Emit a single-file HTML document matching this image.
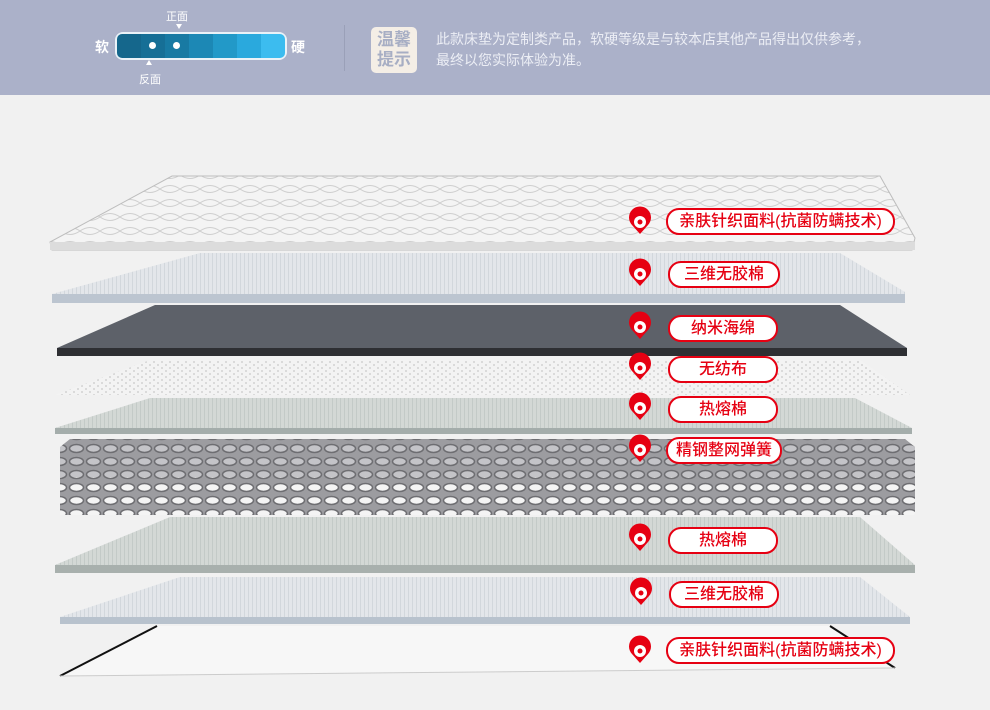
<!DOCTYPE html>
<html><head><meta charset="utf-8"><style>
body{margin:0;width:990px;height:710px;overflow:hidden;background:#f1f1f1;font-family:"Liberation Sans","Noto Sans CJK SC",sans-serif;position:relative}
.hdr{position:absolute;left:0;top:0;width:990px;height:95px;background:#abb1c9}
.lab{position:absolute;height:23px;border:2px solid #e60012;border-radius:13px;background:#fff;color:#e60012;font-size:16px;line-height:23px;text-align:center;box-sizing:content-box;font-weight:500}
</style></head><body>
<div class="hdr">
<div style="position:absolute;left:95px;top:37px;color:#fff;font-size:14px;font-weight:bold">软</div>
<div style="position:absolute;left:291px;top:37px;color:#fff;font-size:14px;font-weight:bold">硬</div>
<div style="position:absolute;left:166px;top:8px;color:#fff;font-size:11px">正面</div>
<div style="position:absolute;left:176px;top:24px;width:0;height:0;border-left:3px solid transparent;border-right:3px solid transparent;border-top:5px solid #fff"></div>
<div style="position:absolute;left:146px;top:60px;width:0;height:0;border-left:3px solid transparent;border-right:3px solid transparent;border-bottom:5px solid #fff"></div>
<div style="position:absolute;left:139px;top:71px;color:#fff;font-size:11px">反面</div>
<div style="position:absolute;left:115px;top:32px;width:172px;height:28px;border-radius:8px;background:#eaf2f8;overflow:hidden;display:flex;padding:2px;box-sizing:border-box">
<div style="flex:1;background:#15678c;border-radius:5px 0 0 5px"></div><div style="flex:1;background:#166f96;position:relative"><span style="position:absolute;left:8px;top:8px;width:7px;height:7px;border-radius:50%;background:#fff"></span></div><div style="flex:1;background:#187aa3;position:relative"><span style="position:absolute;left:8px;top:8px;width:7px;height:7px;border-radius:50%;background:#fff"></span></div><div style="flex:1;background:#1c88b5"></div><div style="flex:1;background:#2299c8"></div><div style="flex:1;background:#2aa9dd"></div><div style="flex:1;background:#3cbcef;border-radius:0 5px 5px 0"></div></div>
<div style="position:absolute;left:344px;top:25px;width:1px;height:46px;background:#9aa0b8"></div>
<div style="position:absolute;left:371px;top:27px;width:46px;height:46px;background:#f4eee6;border-radius:5px;color:#a7aec4;font-size:17px;line-height:20px;padding-top:3px;box-sizing:border-box;text-align:center;font-weight:bold">温馨<br>提示</div>
<div style="position:absolute;left:436px;top:29px;color:#eceef5;font-size:14px;line-height:21px">此款床垫为定制类产品，软硬等级是与较本店其他产品得出仅供参考，<br>最终以您实际体验为准。</div>
</div>
<svg width="990" height="710" style="position:absolute;left:0;top:0">
<defs>
<pattern id="q" width="40" height="14" patternUnits="userSpaceOnUse"><rect width="40" height="14" fill="#f4f4f4"/><path d="M0 7 Q10 0 20 7 Q30 14 40 7 M0 7 Q10 14 20 7 Q30 0 40 7" stroke="#cfcfcf" fill="none"/></pattern>
<pattern id="v" width="4" height="4" patternUnits="userSpaceOnUse"><rect width="4" height="4" fill="#e3e6ea"/><rect width="1" height="4" fill="#d2d7dc"/></pattern>
<pattern id="g" width="4" height="4" patternUnits="userSpaceOnUse"><rect width="4" height="4" fill="#d3d8d5"/><rect width="1" height="4" fill="#c3cac7"/></pattern>
<pattern id="d" width="8" height="6" patternUnits="userSpaceOnUse"><rect width="8" height="6" fill="#f3f3f3"/><circle cx="2" cy="2" r="1" fill="#d2d2d2"/><circle cx="6" cy="5" r="1" fill="#d2d2d2"/></pattern>
<pattern id="s" width="17" height="13" patternUnits="userSpaceOnUse"><rect width="17" height="13" fill="#9c9ca0"/><ellipse cx="8.5" cy="6.5" rx="7" ry="4" fill="#c4c4c8" stroke="#6e6e72" stroke-width="1.5"/></pattern>
<pattern id="s2" width="17" height="13" patternUnits="userSpaceOnUse"><rect width="17" height="13" fill="#9c9ca0"/><ellipse cx="8.5" cy="6.5" rx="7" ry="4" fill="#f4f4f4" stroke="#6e6e72" stroke-width="1.5"/></pattern>
</defs>
<polygon points="172,176 880,176 915,238 912,250 52,250 50,242" fill="url(#q)" stroke="#bdbdbd"/>
<rect x="50" y="242" width="865" height="8" fill="#dcdcdc"/>
<polygon points="200,253 840,253 905,292 905,303 52,303 52,294" fill="url(#v)"/>
<rect x="52" y="294" width="853" height="9" fill="#bcc5d0"/>
<polygon points="155,305 840,305 907,348 907,356 57,356 57,348" fill="#5d6169"/>
<rect x="57" y="348" width="850" height="8" fill="#2e2f33"/>
<polygon points="150,360 860,360 910,395 55,395" fill="url(#d)"/>
<polygon points="150,398 855,398 912,428 912,434 55,434 55,428" fill="url(#g)"/>
<rect x="55" y="428" width="857" height="6" fill="#a4adab"/>
<polygon points="70,439 905,439 915,447 915,515 60,515 60,447" fill="url(#s)"/>
<rect x="60" y="477" width="855" height="38" fill="url(#s2)"/>
<polygon points="170,517 860,517 915,565 915,573 55,573 55,565" fill="url(#g)"/>
<rect x="55" y="565" width="860" height="8" fill="#a8b0ad"/>
<polygon points="180,577 860,577 910,617 910,624 60,624 60,617" fill="url(#v)"/>
<rect x="60" y="617" width="850" height="7" fill="#b8c2cd"/>
<polygon points="157,626 830,626 895,668 60,676" fill="#f7f7f7"/>
<polyline points="157,626 60,676" stroke="#111" stroke-width="2" fill="none"/>
<polyline points="830,626 895,668" stroke="#111" stroke-width="2" fill="none"/>
<line x1="60" y1="676" x2="895" y2="668" stroke="#ccc"/>
<g fill="#e60012">
<g transform="translate(640,222)"><path d="M0 12 L-8 3 A11 11 0 1 1 8 3 Z"/><circle r="6" fill="#fff"/><circle r="2.5"/></g>
<g transform="translate(640,274)"><path d="M0 12 L-8 3 A11 11 0 1 1 8 3 Z"/><circle r="6" fill="#fff"/><circle r="2.5"/></g>
<g transform="translate(640,327)"><path d="M0 12 L-8 3 A11 11 0 1 1 8 3 Z"/><circle r="6" fill="#fff"/><circle r="2.5"/></g>
<g transform="translate(640,368)"><path d="M0 12 L-8 3 A11 11 0 1 1 8 3 Z"/><circle r="6" fill="#fff"/><circle r="2.5"/></g>
<g transform="translate(640,408)"><path d="M0 12 L-8 3 A11 11 0 1 1 8 3 Z"/><circle r="6" fill="#fff"/><circle r="2.5"/></g>
<g transform="translate(640,450)"><path d="M0 12 L-8 3 A11 11 0 1 1 8 3 Z"/><circle r="6" fill="#fff"/><circle r="2.5"/></g>
<g transform="translate(640,539)"><path d="M0 12 L-8 3 A11 11 0 1 1 8 3 Z"/><circle r="6" fill="#fff"/><circle r="2.5"/></g>
<g transform="translate(641,593)"><path d="M0 12 L-8 3 A11 11 0 1 1 8 3 Z"/><circle r="6" fill="#fff"/><circle r="2.5"/></g>
<g transform="translate(640,651)"><path d="M0 12 L-8 3 A11 11 0 1 1 8 3 Z"/><circle r="6" fill="#fff"/><circle r="2.5"/></g>
</g>
</svg>
<div class="lab" style="left:666px;top:208px;width:225px">亲肤针织面料(抗菌防螨技术)</div>
<div class="lab" style="left:668px;top:261px;width:108px">三维无胶棉</div>
<div class="lab" style="left:668px;top:315px;width:106px">纳米海绵</div>
<div class="lab" style="left:668px;top:356px;width:106px">无纺布</div>
<div class="lab" style="left:668px;top:396px;width:106px">热熔棉</div>
<div class="lab" style="left:666px;top:437px;width:112px">精钢整网弹簧</div>
<div class="lab" style="left:668px;top:527px;width:106px">热熔棉</div>
<div class="lab" style="left:669px;top:581px;width:106px">三维无胶棉</div>
<div class="lab" style="left:666px;top:637px;width:225px">亲肤针织面料(抗菌防螨技术)</div>
</body></html>
